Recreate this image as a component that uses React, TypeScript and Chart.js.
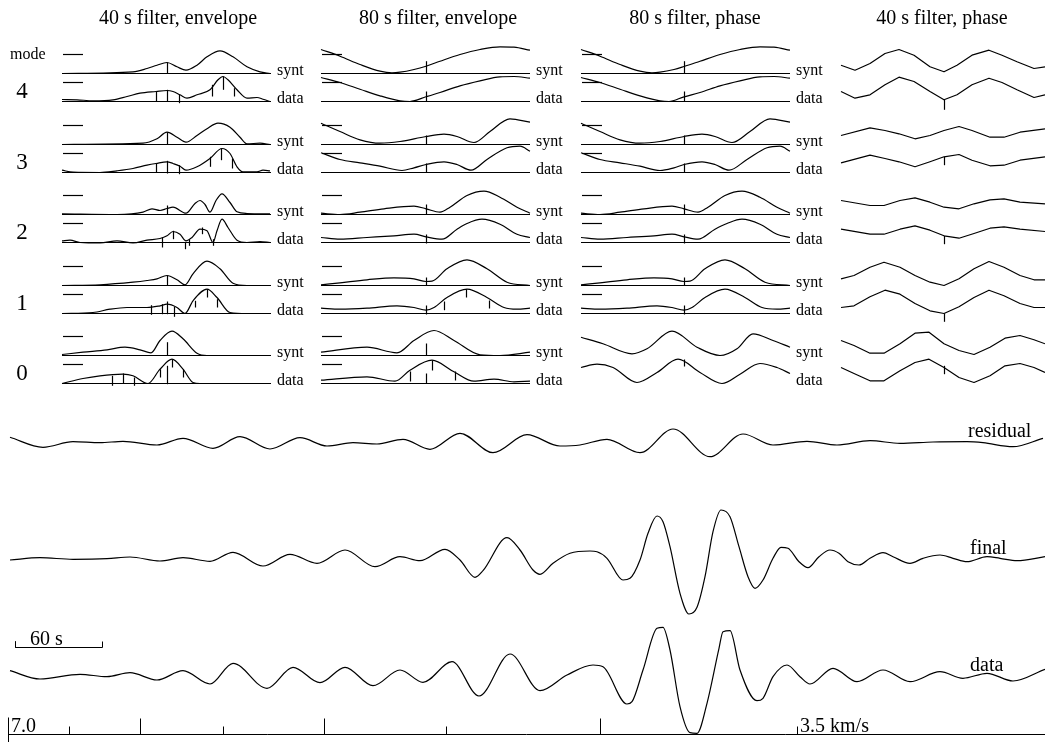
import React, { useEffect, useRef } from "react";
import { Chart, registerables } from "chart.js";

Chart.register(...registerables);

type Pt = [number, number];
type Tick = [number, number, number];

// ---------------- text ----------------
const COLUMN_TITLES = ["40 s filter, envelope", "80 s filter, envelope", "80 s filter, phase", "40 s filter, phase"];
const MODES = [4, 3, 2, 1, 0];
const KINDS = ["synt", "data"];
const BOTTOM_LABELS = ["residual", "final", "data"];

// ---------------- 40 s filter, envelope ----------------
const env40_m4_synt: Pt[] = [[0,0],[71,1.7],[85,5],[95,8.3],[105,11],[115,6.7],[124,3.3],[135,8.3],[145,16.7],[158,22.7],[171,16.7],[185,6.7],[198,1.7],[208,0]];
const env40_m4_data: Pt[] = [[0,2],[15,1.7],[31,0.7],[51,1.7],[65,5],[78,8.3],[94,10],[105,11],[111,10],[118,6.7],[125,3.3],[135,6.7],[148,11.7],[156,21.7],[161,25],[166,21.7],[175,11.7],[185,3.3],[195,4],[201,2.3],[208,0]];
const env40_m3_synt: Pt[] = [[0,0],[81,1.3],[95,5.7],[105,12.3],[115,7.3],[124,2.3],[135,9],[145,15.7],[156,21.3],[168,17.3],[178,7.3],[185,0.7],[198,1.3],[208,0]];
const env40_m3_data: Pt[] = [[0,2.3],[11,0.3],[38,0],[55,1.7],[71,4],[85,7.3],[94,9],[105,10.7],[111,9],[118,6.3],[124,2.3],[135,5.7],[148,14],[160,24],[168,19],[175,5.7],[181,0.7],[195,0.7],[201,2.3],[208,1.7]];
const env40_m2_synt: Pt[] = [[0,0.7],[55,0],[81,2.3],[90,5.7],[98,4],[105,6],[111,7.3],[124,1.3],[133,11],[138,14],[143,10],[148,2.3],[154,14],[160,20.7],[168,12],[175,2.7],[185,1],[208,0.7]];
const env40_m2_data: Pt[] = [[0,1.7],[8,2.3],[18,0],[38,-0.5],[55,1.7],[71,-0.5],[85,2.3],[98,4],[105,6.7],[111,11],[118,8.3],[124,1.7],[130,5],[138,13.3],[145,11.7],[151,0],[155,11.7],[160,23.3],[166,15],[175,2.3],[185,0],[198,1],[208,0]];
const env40_m1_synt: Pt[] = [[0,0],[38,0.7],[71,3.3],[85,5],[95,6.7],[105,10],[115,5.7],[123,0.7],[131,11.7],[145,24.3],[158,16.7],[171,2.3],[185,0],[208,0]];
const env40_m1_data: Pt[] = [[0,0],[31,1],[48,4.3],[65,6],[85,6],[98,7.7],[105,9.3],[115,6],[123,0],[131,12.7],[145,24.3],[155,16],[168,1],[185,0],[208,0]];
const env40_m0_synt: Pt[] = [[0,1],[21,3.3],[45,5.7],[63,8.3],[78,5.7],[89,2.7],[98,15],[110,24.3],[121,16.7],[135,2.3],[145,0],[208,0]];
const env40_m0_data: Pt[] = [[0,0],[21,5],[38,7.7],[61,9.3],[71,7.7],[86,0],[98,14.3],[110,24.3],[121,14.3],[131,1],[138,0],[208,0]];

const env40_m4_synt_ticks: Tick[] = [[105,0,11]];
const env40_m4_data_ticks: Tick[] = [[94,0,10],[105,0,11.7],[117,-1.7,6.7],[150,5,16.7],[161,11.7,25],[172,5,13.3]];
const env40_m3_synt_ticks: Tick[] = [[105,0,12.3]];
const env40_m3_data_ticks: Tick[] = [[94,0,9],[105,-1,11.7],[117,-1.7,7.3],[148,5.7,15.7],[159,12.3,24],[170,4,14]];
const env40_m2_synt_ticks: Tick[] = [[105,0,9]];
const env40_m2_data_ticks: Tick[] = [[100,-5,5],[111,3.3,11.7],[123,-6.7,0],[127,-3.3,3.3],[140,8.3,15],[151,-3.3,3.3]];
const env40_m1_synt_ticks: Tick[] = [[105,0,10]];
const env40_m1_data_ticks: Tick[] = [[89,-1.3,8.3],[100,-0.7,9.3],[105,-0.7,12],[112,-3.3,6.7],[133,6,12.7],[145,16,24.3],[155,6,14.3]];
const env40_m0_synt_ticks: Tick[] = [[105,0,13.3]];
const env40_m0_data_ticks: Tick[] = [[50,-2.3,7.7],[61,0,10],[72,-2.3,6],[98,6,14.3],[105,-0.7,17.7],[110,16,24.3],[121,6,14.3]];

// ---------------- 80 s filter, envelope ----------------
const env80_m4_synt: Pt[] = [[0,24],[19,17.3],[39,9],[59,2.3],[71,0.7],[79,1.3],[93,4],[105,7.3],[119,12.3],[139,19],[159,24],[179,26.7],[193,26.3],[209,23.3]];
const env80_m4_data: Pt[] = [[0,24],[19,19],[39,12.3],[59,5.7],[79,0.7],[89,0],[105,4.7],[119,9],[139,15.7],[159,20.7],[179,24.7],[193,25],[209,23.3]];
const env80_m3_synt: Pt[] = [[0,21.3],[19,13],[39,4.7],[59,1.3],[79,3],[105,8],[123,10.3],[136,8],[153,2],[169,13],[189,25.7],[209,22.3]];
const env80_m3_data: Pt[] = [[0,19.7],[19,13],[39,9.7],[59,6.3],[81,2],[93,4.7],[105,8],[123,10.7],[136,8],[150,2.3],[166,13],[186,24.7],[199,26.3],[209,21.3]];
const env80_m2_synt: Pt[] = [[0,1.3],[19,0],[39,2.3],[63,5.7],[93,8.3],[105,5.7],[119,2.3],[129,7.3],[146,19],[163,23.3],[179,17.3],[196,7.3],[209,1.3]];
const env80_m2_data: Pt[] = [[0,5],[19,3.3],[46,5],[73,6.7],[93,8.3],[105,5.7],[121,3.3],[136,13.3],[146,19],[161,23.3],[179,18.3],[196,8.3],[209,5]];
const env80_m1_synt: Pt[] = [[0,0.7],[19,2.7],[46,5.7],[73,7.7],[93,6.7],[105,4],[111,4.3],[126,16.7],[146,25.7],[166,16.7],[186,3.3],[209,0]];
const env80_m1_data: Pt[] = [[0,5.3],[19,4.3],[46,5.3],[76,7.7],[93,6],[105,3.3],[113,6],[126,16],[146,24.3],[166,16],[183,6],[196,4.3],[209,5.3]];
const env80_m0_synt: Pt[] = [[0,3.3],[46,8.3],[76,2.7],[93,15],[113,25],[133,15],[159,0.7],[179,0],[209,3.3]];
const env80_m0_data: Pt[] = [[0,3.3],[46,6.7],[74,2.3],[89,13.3],[111,23.3],[133,11.7],[153,2.3],[173,4.3],[193,1.7],[209,2.3]];

const env80_m4_synt_ticks: Tick[] = [[105,0,12.3]];
const env80_m4_data_ticks: Tick[] = [[105,0,10]];
const env80_m3_synt_ticks: Tick[] = [[105,0,9]];
const env80_m3_data_ticks: Tick[] = [[105,0,9]];
const env80_m2_synt_ticks: Tick[] = [[105,0,10]];
const env80_m2_data_ticks: Tick[] = [[105,-1,8]];
const env80_m1_synt_ticks: Tick[] = [[105,0,8]];
const env80_m1_data_ticks: Tick[] = [[105,-1,8],[123,3.3,12],[145,16,24.3],[168,5,13]];
const env80_m0_synt_ticks: Tick[] = [[105,0,12]];
const env80_m0_data_ticks: Tick[] = [[89,2,12],[105,0,10],[111,13,23],[134,3,12]];

// ---------------- 80 s filter, phase ----------------
const phase80_m4_synt: Pt[] = [[0,24],[19,17.3],[39,9],[59,2.3],[71,0.7],[79,1.3],[93,4],[103,7],[119,12.3],[139,19],[159,24],[179,26.7],[193,26.3],[209,23.3]];
const phase80_m4_data: Pt[] = [[0,24],[19,19],[39,12.3],[59,5.7],[79,0.7],[88,0],[103,4.7],[119,9],[139,15.7],[159,20.7],[179,24.7],[193,25],[209,23.3]];
const phase80_m3_synt: Pt[] = [[0,21.3],[19,13],[39,4.7],[59,1.3],[79,3],[103,8],[121,10.3],[134,8],[151,2],[169,13],[189,25.7],[209,22.3]];
const phase80_m3_data: Pt[] = [[0,19.7],[19,13],[39,9.7],[59,6.3],[79,2],[93,4.7],[103,8],[121,10.7],[134,8],[148,2.3],[166,13],[186,24.7],[199,26.3],[209,21.3]];
const phase80_m2_synt: Pt[] = [[0,1.3],[19,0],[39,2.3],[63,5.7],[91,8.3],[103,5.7],[117,2.3],[127,7.3],[144,19],[161,23.3],[179,17.3],[196,7.3],[209,1.3]];
const phase80_m2_data: Pt[] = [[0,5],[19,3.3],[46,5],[73,6.7],[91,8.3],[103,5.7],[117,3.3],[134,13.3],[146,19],[161,23.3],[179,18.3],[196,8.3],[209,5]];
const phase80_m1_synt: Pt[] = [[0,0.7],[19,2.7],[46,5.7],[73,7.7],[91,6.7],[103,4],[109,4.3],[124,16.7],[144,25.7],[164,16.7],[184,3.3],[209,0]];
const phase80_m1_data: Pt[] = [[0,5.3],[19,4.3],[46,5.3],[76,7.7],[91,6],[103,3.3],[111,6],[124,16],[144,24.3],[164,16],[181,6],[196,4.3],[209,5.3]];
const phase80_m0_synt: Pt[] = [[0,18.3],[22,11.7],[51,1.7],[66,6.7],[91,24.3],[116,8.3],[139,0],[156,6.7],[172,21.7],[192,15],[209,8.3]];
const phase80_m0_data: Pt[] = [[0,16],[16,19.3],[32,16],[56,1],[76,11],[97,24.3],[119,11],[141,0],[159,9.3],[179,20],[196,16],[209,10]];

const phase80_m4_synt_ticks: Tick[] = [[103,0,12.3]];
const phase80_m4_data_ticks: Tick[] = [[103,0,10]];
const phase80_m3_synt_ticks: Tick[] = [[103,0,9]];
const phase80_m3_data_ticks: Tick[] = [[103,0,9]];
const phase80_m2_synt_ticks: Tick[] = [[103,0,10]];
const phase80_m2_data_ticks: Tick[] = [[103,-1,8]];
const phase80_m1_synt_ticks: Tick[] = [[103,0,8]];
const phase80_m1_data_ticks: Tick[] = [[103,-1,8]];
const phase80_m0_synt_ticks: Tick[] = [];
const phase80_m0_data_ticks: Tick[] = [[103,17,24]];

// ---------------- 40 s filter, phase ----------------
const phase40_m4_synt: Pt[] = [[0,8.3],[14,3.3],[29,10],[44,20],[58,24],[73,18.3],[89,6.7],[103,1.7],[116,8.3],[131,18.3],[148,23.3],[161,18.3],[176,11.7],[193,5],[204,6.7]];
const phase40_m4_data: Pt[] = [[0,10],[14,3.3],[29,6.7],[44,16.7],[58,24.3],[73,20],[89,10],[103,1.7],[116,6.7],[131,16.7],[148,23.3],[161,19],[176,11.7],[193,4],[204,6.7]];
const phase40_m3_synt: Pt[] = [[0,9],[29,16.7],[44,14],[58,10.7],[74,5.7],[89,9],[103,14],[118,18],[131,14],[149,7.3],[163,7.3],[179,12.3],[204,15.7]];
const phase40_m3_data: Pt[] = [[0,9.7],[29,17.3],[44,14],[58,10.7],[74,5.7],[89,10.7],[103,15.7],[118,18],[131,12.3],[149,6.7],[163,7.3],[179,12.3],[204,15.7]];
const phase40_m2_synt: Pt[] = [[0,14],[29,9],[43,9],[59,14],[74,16.7],[89,12.3],[103,7.3],[118,5.7],[133,10.7],[149,14.7],[163,15.7],[179,12.3],[204,10.7]];
const phase40_m2_data: Pt[] = [[0,13.3],[29,8.3],[43,8.3],[59,13.3],[74,16.7],[89,12.3],[103,6.7],[118,4.3],[133,9],[149,14.3],[163,15.7],[179,13.3],[204,11]];
const phase40_m1_synt: Pt[] = [[0,6.7],[13,10],[29,18.3],[43,23.3],[59,18.3],[74,10],[89,3.3],[103,0],[118,6.7],[133,16.7],[148,24],[163,18.3],[179,10],[193,5.7],[204,5.7]];
const phase40_m1_data: Pt[] = [[0,6],[13,7.7],[29,16.7],[44,23.3],[59,19.3],[74,10],[89,2.7],[103,0],[118,6.7],[133,16],[148,23.3],[163,17.7],[179,10],[193,6],[204,6]];
const phase40_m0_synt: Pt[] = [[0,15],[13,10],[29,2.3],[43,2.3],[59,11.7],[74,22.3],[88,23.3],[103,11.7],[118,5],[133,1],[149,8.3],[164,17.3],[179,20],[193,15.7],[204,11.7]];
const phase40_m0_data: Pt[] = [[0,16],[13,10],[29,2.7],[43,2.7],[59,12.7],[74,21],[88,24.3],[103,16],[118,6],[133,1],[149,7.7],[164,17.7],[179,20],[193,16],[204,11]];

const phase40_m4_synt_ticks: Tick[] = [];
const phase40_m4_data_ticks: Tick[] = [[103,-8.3,1.7]];
const phase40_m3_synt_ticks: Tick[] = [];
const phase40_m3_data_ticks: Tick[] = [[103,7.3,15.7]];
const phase40_m2_synt_ticks: Tick[] = [];
const phase40_m2_data_ticks: Tick[] = [[103,-1.7,6.7]];
const phase40_m1_synt_ticks: Tick[] = [];
const phase40_m1_data_ticks: Tick[] = [[103,-8.3,0]];
const phase40_m0_synt_ticks: Tick[] = [];
const phase40_m0_data_ticks: Tick[] = [[103,9.3,17.7]];

// ---------------- full seismograms ----------------
const residual_trace: Pt[] = [[10,5.7],[43,-4.3],[73,1.3],[100,0.3],[123,1.7],[157,-2],[183,4.7],[213,-5.3],[240,6.3],[270,-6],[300,5.3],[327,-3],[353,0.3],[377,-1],[403,3.7],[430,-6.3],[460,9.7],[493,-9.7],[527,8.3],[560,-3],[580,-2],[607,3.7],[640,-9.7],[673,14],[710,-13.7],[743,9],[773,-2],[807,1.7],[837,-2],[870,2.3],[900,-0.3],[933,1],[967,1.3],[983,0.3],[1013,-3.7],[1043,4.7]];
const final_trace: Pt[] = [[10,-0.7],[40,1.6],[73,0],[107,0.6],[130,2.3],[160,-1.7],[183,1.6],[210,-2],[233,7],[263,-6.7],[290,5],[317,-4],[345,9.3],[375,-7.4],[400,2.6],[420,-1.4],[445,10],[460,-0.7],[475,-18],[483,-11.4],[507,21.6],[520,9.3],[533,-10.7],[540,-15],[553,-4],[570,6],[590,8.3],[597,7.6],[607,1],[623,-20.7],[630,-19],[640,-0.7],[648,26],[657,43.3],[663,37.6],[670,12.6],[680,-34],[689,-54.7],[697,-48],[705,-17.4],[713,27.6],[721,49.3],[730,42.6],[739,12.6],[748,-17.4],[755,-29],[763,-20.7],[773,1],[781,12],[788,11],[799,-2.4],[808,-8.4],[819,2.6],[830,9.3],[839,6],[848,-2.4],[859,-5.7],[870,1],[883,6.6],[893,2.6],[910,-4],[923,1],[940,4.3],[953,1],[967,-2.4],[987,2.6],[1000,1],[1017,-1.4],[1045,2.6]];
const data_trace: Pt[] = [[10,4.3],[40,-4],[80,0.7],[107,-1.7],[130,2.3],[157,-5],[183,4.3],[210,-9],[233,11.7],[267,-13.3],[293,7.7],[320,-7.7],[345,7.7],[373,-10.7],[400,5],[423,-7.3],[452,13.3],[479,-21],[510,21],[540,-15.7],[567,0],[593,10],[603,8.3],[627,-29],[632,-26.7],[643,5],[657,46.7],[663,47.7],[670,25],[680,-31.7],[690,-57.7],[697,-58.3],[707,-28.3],[719,26.7],[723,43.3],[730,44.3],[740,5],[757,-25.7],[763,-23.3],[773,-1.7],[787,10],[800,-1.7],[810,-9],[833,6.7],[857,-6.7],[883,5],[910,-6.7],[940,3.3],[963,-3.3],[987,1.7],[1013,-6],[1045,5.7]];

// velocity ticks (km/s) and time scale
const VEL_TICKS = [7.0, 6.5, 6.0, 5.5, 5.0, 4.5, 4.0, 3.5];
const VEL_LABELS: [number, string][] = [[7.0, "7.0"], [3.5, "3.5 km/s"]];
const DIST_KM = 3809;
const T0_S = 538.6;
const PX_PER_S = 1.45;
const SCALE_BAR_S = 60;

// ---------------- tables built from the arrays ----------------
const TRACE_TABLE: Pt[][][][] = [
  [[env40_m4_synt, env40_m4_data], [env40_m3_synt, env40_m3_data], [env40_m2_synt, env40_m2_data], [env40_m1_synt, env40_m1_data], [env40_m0_synt, env40_m0_data]],
  [[env80_m4_synt, env80_m4_data], [env80_m3_synt, env80_m3_data], [env80_m2_synt, env80_m2_data], [env80_m1_synt, env80_m1_data], [env80_m0_synt, env80_m0_data]],
  [[phase80_m4_synt, phase80_m4_data], [phase80_m3_synt, phase80_m3_data], [phase80_m2_synt, phase80_m2_data], [phase80_m1_synt, phase80_m1_data], [phase80_m0_synt, phase80_m0_data]],
  [[phase40_m4_synt, phase40_m4_data], [phase40_m3_synt, phase40_m3_data], [phase40_m2_synt, phase40_m2_data], [phase40_m1_synt, phase40_m1_data], [phase40_m0_synt, phase40_m0_data]],
];
const TICK_TABLE: Tick[][][][] = [
  [[env40_m4_synt_ticks, env40_m4_data_ticks], [env40_m3_synt_ticks, env40_m3_data_ticks], [env40_m2_synt_ticks, env40_m2_data_ticks], [env40_m1_synt_ticks, env40_m1_data_ticks], [env40_m0_synt_ticks, env40_m0_data_ticks]],
  [[env80_m4_synt_ticks, env80_m4_data_ticks], [env80_m3_synt_ticks, env80_m3_data_ticks], [env80_m2_synt_ticks, env80_m2_data_ticks], [env80_m1_synt_ticks, env80_m1_data_ticks], [env80_m0_synt_ticks, env80_m0_data_ticks]],
  [[phase80_m4_synt_ticks, phase80_m4_data_ticks], [phase80_m3_synt_ticks, phase80_m3_data_ticks], [phase80_m2_synt_ticks, phase80_m2_data_ticks], [phase80_m1_synt_ticks, phase80_m1_data_ticks], [phase80_m0_synt_ticks, phase80_m0_data_ticks]],
  [[phase40_m4_synt_ticks, phase40_m4_data_ticks], [phase40_m3_synt_ticks, phase40_m3_data_ticks], [phase40_m2_synt_ticks, phase40_m2_data_ticks], [phase40_m1_synt_ticks, phase40_m1_data_ticks], [phase40_m0_synt_ticks, phase40_m0_data_ticks]],
];
const BOTTOM_TRACES = [residual_trace, final_trace, data_trace];

// ---------------- layout ----------------
const CANVAS_W = 1045;
const CANVAS_H = 742;
const COL_LEFT = [62, 321, 581, 841];
const TITLE_X = [178, 438, 695, 942];
const TITLE_Y = 19;
const PANEL_T = 209;
const LABEL_DX = 215;
const SYNT_BASE_Y = [73.5, 144.5, 214.5, 285.5, 355.5];
const DATA_DY = 28;
const DASH_LEVEL = 19;
const DASH_LEN = 20;
const SHOW_BASELINE = [[1, 1, 1, 1, 1], [1, 1, 1, 1, 1], [1, 1, 1, 1, 0], [0, 0, 0, 0, 0]];
const SHOW_DASH = [[1, 1, 1, 1, 1], [1, 1, 1, 1, 1], [1, 1, 1, 1, 0], [0, 0, 0, 0, 0]];
const SMOOTH_COL = [true, true, true, false];
const BOTTOM_CENTER_Y = [443, 559.3, 675];
const BOTTOM_SMOOTH = [true, true, true];
const BOTTOM_LABEL_POS: [number, number][] = [[968, 432], [970, 549], [970, 666]];
const AXIS_Y = 734.5;
const AXIS_X0 = 8;
const SCALE_BAR_X = 15;
const SCALE_BAR_Y = 647.5;
const FONT = '"Liberation Serif", "Times New Roman", Times, serif';
const INK = "#000";

const arrivalX = (v: number) => (DIST_KM / v - T0_S) * PX_PER_S;

export default function App() {
  const ref = useRef<HTMLCanvasElement>(null);

  useEffect(() => {
    const canvas = ref.current;
    if (!canvas) return;
    const datasets: any[] = [];
    const P = (x: number, y: number) => ({ x, y });
    const add = (pts: { x: number; y: number }[], width = 1.2, smooth = false) => {
      datasets.push({
        data: pts,
        borderColor: INK,
        borderWidth: width,
        pointRadius: 0,
        pointHoverRadius: 0,
        fill: false,
        tension: 0,
        cubicInterpolationMode: smooth ? "monotone" : "default",
        borderJoinStyle: "round",
        borderCapStyle: "butt",
      });
    };

    COL_LEFT.forEach((left, c) => {
      MODES.forEach((_mode, m) => {
        KINDS.forEach((_kind, k) => {
          const base = SYNT_BASE_Y[m] + k * DATA_DY;
          if (SHOW_BASELINE[c][m]) add([P(left, base), P(left + PANEL_T, base)], 1);
          if (SHOW_DASH[c][m]) add([P(left + 1, base - DASH_LEVEL), P(left + 1 + DASH_LEN, base - DASH_LEVEL)], 1.2);
          const trace = TRACE_TABLE[c][m][k];
          add(trace.map(([t, a]) => P(left + t, base - a)), 1.2, SMOOTH_COL[c]);
          TICK_TABLE[c][m][k].forEach(([t, lo, hi]) => add([P(left + t + 0.5, base - lo), P(left + t + 0.5, base - hi)], 1.2));
        });
      });
    });

    BOTTOM_TRACES.forEach((tr, i) => {
      const cy = BOTTOM_CENTER_Y[i];
      add(tr.map(([x, v]) => P(x, cy - v)), 1.2, BOTTOM_SMOOTH[i]);
    });

    // velocity axis
    add([P(AXIS_X0, AXIS_Y), P(CANVAS_W, AXIS_Y)], 1);
    VEL_TICKS.forEach((v, i) => {
      const x = Math.round(arrivalX(v)) + 0.5;
      const isInt = Math.abs(v - Math.round(v)) < 1e-6;
      const top = i === 0 ? AXIS_Y - 17 : isInt ? AXIS_Y - 16 : AXIS_Y - 8;
      const bottom = i === 0 ? CANVAS_H : AXIS_Y;
      add([P(x, bottom), P(x, top)], 1);
    });

    // time scale bar
    const barEnd = Math.round(SCALE_BAR_X + SCALE_BAR_S * PX_PER_S) + 0.5;
    add([P(SCALE_BAR_X + 0.5, SCALE_BAR_Y - 6), P(SCALE_BAR_X + 0.5, SCALE_BAR_Y), P(barEnd, SCALE_BAR_Y), P(barEnd, SCALE_BAR_Y - 6)], 1);

    const textPlugin = {
      id: "seismoText",
      afterDraw(chart: any) {
        const ctx = chart.ctx as CanvasRenderingContext2D;
        const xs = chart.scales.x;
        const ys = chart.scales.y;
        const X = (v: number) => xs.getPixelForValue(v);
        const Y = (v: number) => ys.getPixelForValue(v);
        ctx.save();
        ctx.fillStyle = INK;
        // titles
        ctx.font = `20px ${FONT}`;
        ctx.textAlign = "center";
        ctx.textBaseline = "middle";
        COLUMN_TITLES.forEach((t, c) => ctx.fillText(t, X(TITLE_X[c]), Y(TITLE_Y)));
        // mode labels
        ctx.textAlign = "left";
        ctx.font = `16px ${FONT}`;
        ctx.fillText("mode", X(10), Y(55));
        ctx.textAlign = "center";
        ctx.font = `23px ${FONT}`;
        MODES.forEach((mode, m) => ctx.fillText(String(mode), X(22), Y(SYNT_BASE_Y[m] + 18)));
        // synt / data labels
        ctx.textAlign = "left";
        ctx.font = `16px ${FONT}`;
        [0, 1, 2].forEach((c) => {
          MODES.forEach((_mode, m) => {
            KINDS.forEach((kind, k) => {
              const base = SYNT_BASE_Y[m] + k * DATA_DY;
              ctx.fillText(kind, X(COL_LEFT[c] + LABEL_DX), Y(base - 3));
            });
          });
        });
        // bottom labels
        ctx.font = `20px ${FONT}`;
        BOTTOM_LABELS.forEach((lab, i) => ctx.fillText(lab, X(BOTTOM_LABEL_POS[i][0]), Y(BOTTOM_LABEL_POS[i][1])));
        // scale bar label
        ctx.textBaseline = "alphabetic";
        ctx.fillText(`${SCALE_BAR_S} s`, X(SCALE_BAR_X + 15), Y(SCALE_BAR_Y - 3));
        // velocity labels
        VEL_LABELS.forEach(([v, lab]) => ctx.fillText(lab, X(arrivalX(v) + 3), Y(AXIS_Y - 2.5)));
        ctx.restore();
      },
    };

    const chart = new Chart(canvas, {
      type: "line",
      data: { datasets },
      options: {
        animation: false,
        responsive: false,
        devicePixelRatio: 1,
        events: [],
        layout: { padding: 0 },
        plugins: { legend: { display: false }, tooltip: { enabled: false }, title: { display: false } },
        scales: {
          x: { type: "linear", min: 0, max: CANVAS_W, display: false },
          y: { type: "linear", min: 0, max: CANVAS_H, reverse: true, display: false },
        },
      },
      plugins: [textPlugin],
    } as any);

    return () => chart.destroy();
  }, []);

  return (
    <div style={{ position: "absolute", left: 0, top: 0, width: CANVAS_W, height: CANVAS_H, background: "#fff" }}>
      <canvas ref={ref} width={CANVAS_W} height={CANVAS_H} style={{ display: "block" }} />
    </div>
  );
}
